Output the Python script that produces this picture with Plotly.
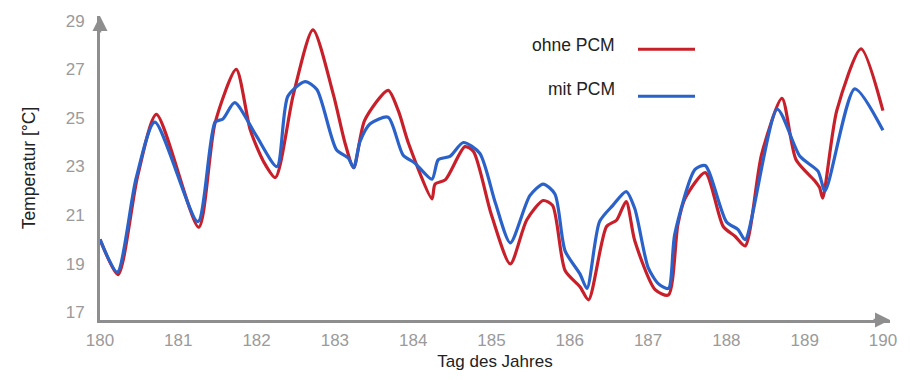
import plotly.graph_objects as go

# ---- data ----
day_ohne = [180.00, 180.23, 180.48, 180.72, 181.26, 181.47, 181.74, 181.92, 182.09, 182.24,
            182.47, 182.72, 182.98, 183.13, 183.24, 183.38, 183.68, 183.81, 183.94, 184.24,
            184.28, 184.41, 184.66, 184.77, 185.00, 185.24, 185.45, 185.66, 185.78, 185.94,
            186.13, 186.24, 186.47, 186.60, 186.72, 186.83, 187.09, 187.26, 187.38, 187.47,
            187.73, 187.96, 188.11, 188.24, 188.45, 188.71, 188.89, 189.13, 189.19, 189.23,
            189.41, 189.72, 190.00]
temp_ohne = [20.0, 18.55, 22.6, 25.15, 20.5, 24.8, 27.0, 24.5, 23.2, 22.55,
             25.97, 28.63, 25.97, 23.96, 22.95, 24.9, 26.14, 25.3, 23.96, 21.67,
             22.28, 22.45, 23.82, 23.62, 21.0, 18.99, 20.8, 21.6, 21.4, 18.72,
             18.05, 17.51, 20.53, 20.8, 21.56, 19.94, 17.93, 17.71, 20.6, 21.67,
             22.75, 20.53, 20.13, 19.73, 23.5, 25.81, 23.28, 22.41, 22.14, 21.7,
             25.3, 27.85, 25.3]

day_mit = [180.00, 180.22, 180.46, 180.70, 181.25, 181.47, 181.57, 181.72, 181.99, 182.26,
           182.40, 182.62, 182.77, 183.02, 183.17, 183.24, 183.32, 183.45, 183.68, 183.87,
           184.02, 184.24, 184.32, 184.47, 184.64, 184.85, 185.05, 185.24, 185.49, 185.66,
           185.81, 185.94, 186.13, 186.22, 186.38, 186.55, 186.72, 186.83, 187.00, 187.13,
           187.26, 187.34, 187.60, 187.73, 188.00, 188.15, 188.24, 188.65, 188.94, 189.17,
           189.26, 189.64, 190.00]
temp_mit = [20.0, 18.65, 22.5, 24.83, 20.73, 24.83, 24.96, 25.63, 24.3, 23.0,
            25.9, 26.5, 26.17, 23.69, 23.35, 22.95, 24.02, 24.76, 25.03, 23.48,
            23.15, 22.48, 23.28, 23.42, 23.99, 23.55, 21.5, 19.86, 21.8, 22.28,
            21.87, 19.53, 18.58, 17.98, 20.73, 21.4, 21.97, 21.27, 18.85, 18.18,
            17.98, 20.2, 22.88, 23.04, 20.73, 20.4, 19.99, 25.36, 23.42, 22.81,
            22.0, 26.2, 24.49]

x_ticks = [180, 181, 182, 183, 184, 185, 186, 187, 188, 189, 190]
y_ticks = [17, 19, 21, 23, 25, 27, 29]
series_names = ["ohne PCM", "mit PCM"]

RED = "#c8202a"
BLUE = "#2a62c9"
AXIS = "#8e8e8e"
TICK = "#9a9a9a"
FONT = "Liberation Sans, Arial, sans-serif"

fig = go.Figure()
fig.add_trace(go.Scatter(x=day_ohne, y=temp_ohne, mode="lines", name=series_names[0],
                         line=dict(color=RED, width=3.2, shape="spline", smoothing=0.7)))
fig.add_trace(go.Scatter(x=day_mit, y=temp_mit, mode="lines", name=series_names[1],
                         line=dict(color=BLUE, width=3.2, shape="spline", smoothing=0.7)))

fig.update_layout(
    width=913, height=380,
    margin=dict(l=100, r=23, t=13, b=56),
    paper_bgcolor="white", plot_bgcolor="white",
    showlegend=False,
    font=dict(family=FONT),
    xaxis=dict(range=[180, 190.09], tickvals=x_ticks, ticktext=[str(v) for v in x_ticks],
               showgrid=False, zeroline=False, showline=True, linecolor=AXIS, linewidth=3,
               ticks="", tickfont=dict(size=17, color=TICK, family=FONT),
               ticklabelstandoff=3,
               title=dict(text="Tag des Jahres", font=dict(size=17, color="#222"), standoff=6)),
    yaxis=dict(range=[16.68, 29.2], tickvals=y_ticks, ticktext=[str(v) for v in y_ticks],
               showgrid=False, zeroline=False, showline=True, linecolor=AXIS, linewidth=3,
               ticks="", tickfont=dict(size=17, color=TICK, family=FONT),
               ticklabelstandoff=9,
               title=dict(text="Temperatur [°C]", font=dict(size=17.5, color="#222"), standoff=26)),
)

# axis arrowheads
fig.add_annotation(x=0, y=1.0, xref="paper", yref="paper", ax=0, ay=18, text="",
                   showarrow=True, arrowhead=2, arrowsize=1.2, arrowwidth=2.5, arrowcolor=AXIS)
fig.add_annotation(x=1.0, y=0, xref="paper", yref="paper", ax=-18, ay=0, text="",
                   showarrow=True, arrowhead=2, arrowsize=1.2, arrowwidth=2.5, arrowcolor=AXIS)

# legend drawn as text + line to the right
PW, PH = 790.0, 311.0
def px(xp):
    return (xp - 100) / PW
def py(yp):
    return (324 - yp) / PH

for name, color, ty, ly in [(series_names[0], RED, 43, 47), (series_names[1], BLUE, 88, 95)]:
    fig.add_annotation(x=px(617), y=py(ty), xref="paper", yref="paper", text=name,
                       showarrow=False, xanchor="right", yanchor="middle",
                       font=dict(size=17.5, color="#222"))
    fig.add_shape(type="line", xref="paper", yref="paper",
                  x0=px(638), x1=px(695), y0=py(ly), y1=py(ly),
                  line=dict(color=color, width=3))

fig.write_html("out.html")
